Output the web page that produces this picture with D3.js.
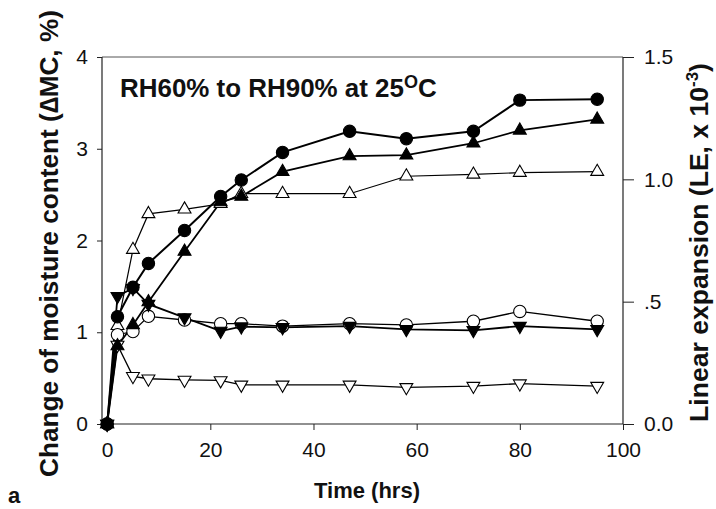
<!DOCTYPE html>
<html>
<head>
<meta charset="utf-8">
<script src="https://cdn.jsdelivr.net/npm/d3@7"></script>
<style>
  html, body { margin: 0; padding: 0; background: #fff; }
  svg { display: block; }
  text { font-family: "Liberation Sans", Arial, sans-serif; fill: #111; }
</style>
</head>
<body>
<svg id="chart" width="716" height="509"></svg>
<script>
// ---- data ----
const hours = [0, 2, 5, 8, 15, 22, 26, 34, 47, 58, 71, 80, 95];

// Change of moisture content (ΔMC, %) – left axis
const mcFilledCircle = [0, 1.17, 1.49, 1.75, 2.11, 2.48, 2.66, 2.96, 3.19, 3.11, 3.19, 3.53, 3.54];
const mcFilledTriUp  = [0, 0.85, 1.08, 1.33, 1.88, 2.42, 2.48, 2.75, 2.92, 2.93, 3.06, 3.20, 3.32];
const mcOpenTriUp    = [0, 1.07, 1.90, 2.29, 2.34, 2.40, 2.51, 2.51, 2.51, 2.70, 2.72, 2.74, 2.75];

// Linear expansion (LE, x 10^-3) – right axis
const leOpenCircle    = [0, 0.365, 0.378, 0.44, 0.425, 0.41, 0.41, 0.40, 0.41, 0.405, 0.42, 0.46, 0.42];
const leFilledTriDown = [0, 0.522, 0.555, 0.49, 0.435, 0.38, 0.398, 0.395, 0.40, 0.387, 0.383, 0.40, 0.387];
const leOpenTriDown   = [0, 0.323, 0.195, 0.185, 0.18, 0.178, 0.16, 0.16, 0.16, 0.15, 0.155, 0.165, 0.155];

const xTicks = [0, 20, 40, 60, 80, 100];
const yLeftTicks = [0, 1, 2, 3, 4];
const yRightTicks = [0, 0.5, 1.0, 1.5];
const yRightLabels = ["0.0", ".5", "1.0", "1.5"];

// ---- layout ----
const svg = d3.select("#chart");
const L = 102, R = 623, T = 57, B = 424;

const x = d3.scaleLinear().domain([-1, 100]).range([L, R]);
const yL = d3.scaleLinear().domain([0, 4]).range([B, T]);
const yR = d3.scaleLinear().domain([0, 1.5]).range([B, T]);

// top frame line
svg.append("line").attr("x1", L).attr("x2", R).attr("y1", T).attr("y2", T)
  .attr("stroke", "#555").attr("stroke-width", 1);

// axes
const axL = d3.axisLeft(yL).tickValues(yLeftTicks).tickSize(5).tickPadding(9).tickFormat(d3.format("d"));
const gL = svg.append("g").attr("transform", `translate(${L},0)`).call(axL);
const axR = d3.axisRight(yR).tickValues(yRightTicks).tickSize(11).tickPadding(10)
  .tickFormat((d, i) => yRightLabels[i]);
const gR = svg.append("g").attr("transform", `translate(${R},0)`).call(axR);
const axB = d3.axisBottom(x).tickValues(xTicks).tickSize(6).tickPadding(12).tickFormat(d3.format("d"));
const gB = svg.append("g").attr("transform", `translate(0,${B})`).call(axB);

[gL, gR, gB].forEach(g => {
  g.select(".domain").attr("stroke", "#222").attr("stroke-width", 1.2);
  g.selectAll(".tick line").attr("stroke", "#222").attr("stroke-width", 1);
  g.selectAll(".tick text").attr("font-size", 21).attr("font-family", "Liberation Sans, Arial, sans-serif").attr("fill", "#111");
});
gL.select(".domain").attr("d", `M0,${B}V${T}`);
gR.select(".domain").attr("d", `M0,${B}V${T}`);
gB.select(".domain").attr("d", `M${L},0H${R}`);

// ---- series ----
const series = [
  { values: mcOpenTriUp,    scale: yL, shape: "triUp",   fill: "#fff", lw: 1.2 },
  { values: leOpenTriDown,  scale: yR, shape: "triDown", fill: "#fff", lw: 1.3 },
  { values: leOpenCircle,   scale: yR, shape: "circle",  fill: "#fff", lw: 1.3 },
  { values: leFilledTriDown,scale: yR, shape: "triDown", fill: "#000", lw: 1.8 },
  { values: mcFilledTriUp,  scale: yL, shape: "triUp",   fill: "#000", lw: 1.8 },
  { values: mcFilledCircle, scale: yL, shape: "circle",  fill: "#000", lw: 2.0 }
];

const triSym = d3.symbol().type(d3.symbolTriangle).size(72);
const circSym = d3.symbol().type(d3.symbolCircle).size(120);

series.forEach(s => {
  const pts = hours.map((h, i) => [h, s.values[i]]);
  const line = d3.line().x(d => x(d[0])).y(d => s.scale(d[1]));
  svg.append("path").datum(pts).attr("d", line)
    .attr("fill", "none").attr("stroke", "#000").attr("stroke-width", s.lw);
});

series.forEach(s => {
  const pts = hours.map((h, i) => [h, s.values[i]]);
  svg.append("g").selectAll("path").data(pts).join("path")
    .attr("d", s.shape === "circle" ? circSym() : triSym())
    .attr("transform", d => `translate(${x(d[0])},${s.scale(d[1])})` + (s.shape === "triDown" ? " rotate(180)" : ""))
    .attr("fill", s.fill).attr("stroke", "#000").attr("stroke-width", 1.1);
});

// scale a text (and its tspans) so its length equals target
function fitLength(sel, target) {
  const node = sel.node();
  const w = node.getComputedTextLength();
  const k = target / w;
  const fs = parseFloat(sel.attr("font-size"));
  sel.attr("font-size", fs * k);
  sel.selectAll("tspan").each(function () {
    const t = d3.select(this);
    if (t.attr("font-size")) t.attr("font-size", parseFloat(t.attr("font-size")) * k);
    if (t.attr("dy")) t.attr("dy", parseFloat(t.attr("dy")) * k);
  });
}

// ---- texts ----
const title = svg.append("text").attr("x", 120).attr("y", 97)
  .attr("font-size", 23).attr("font-weight", "bold");
title.append("tspan").text("RH60% to RH90% at 25");
title.append("tspan").attr("font-size", 16).attr("dy", -8).text("O");
title.append("tspan").attr("dy", 8).text("C");
fitLength(title, 317);

svg.append("text").attr("x", 367).attr("y", 498).attr("text-anchor", "middle")
  .attr("font-size", 22).attr("font-weight", "bold").text("Time (hrs)");

svg.append("text").attr("x", 8).attr("y", 503)
  .attr("font-size", 22).attr("font-weight", "bold").text("a");

const lt = svg.append("text").attr("transform", "translate(58,243.5) rotate(-90)")
  .attr("text-anchor", "middle").attr("font-size", 23).attr("font-weight", "bold")
  .text("Change of moisture content (\u2206MC, %)");
fitLength(lt, 467);

const rt = svg.append("text").attr("transform", "translate(708,242.5) rotate(-90)")
  .attr("text-anchor", "middle").attr("font-size", 22).attr("font-weight", "bold");
rt.append("tspan").text("Linear expansion (LE, x 10");
rt.append("tspan").attr("font-size", 14).attr("dy", -8).text("-3");
rt.append("tspan").attr("dy", 8).text(")");
fitLength(rt, 359);
</script>
</body>
</html>
